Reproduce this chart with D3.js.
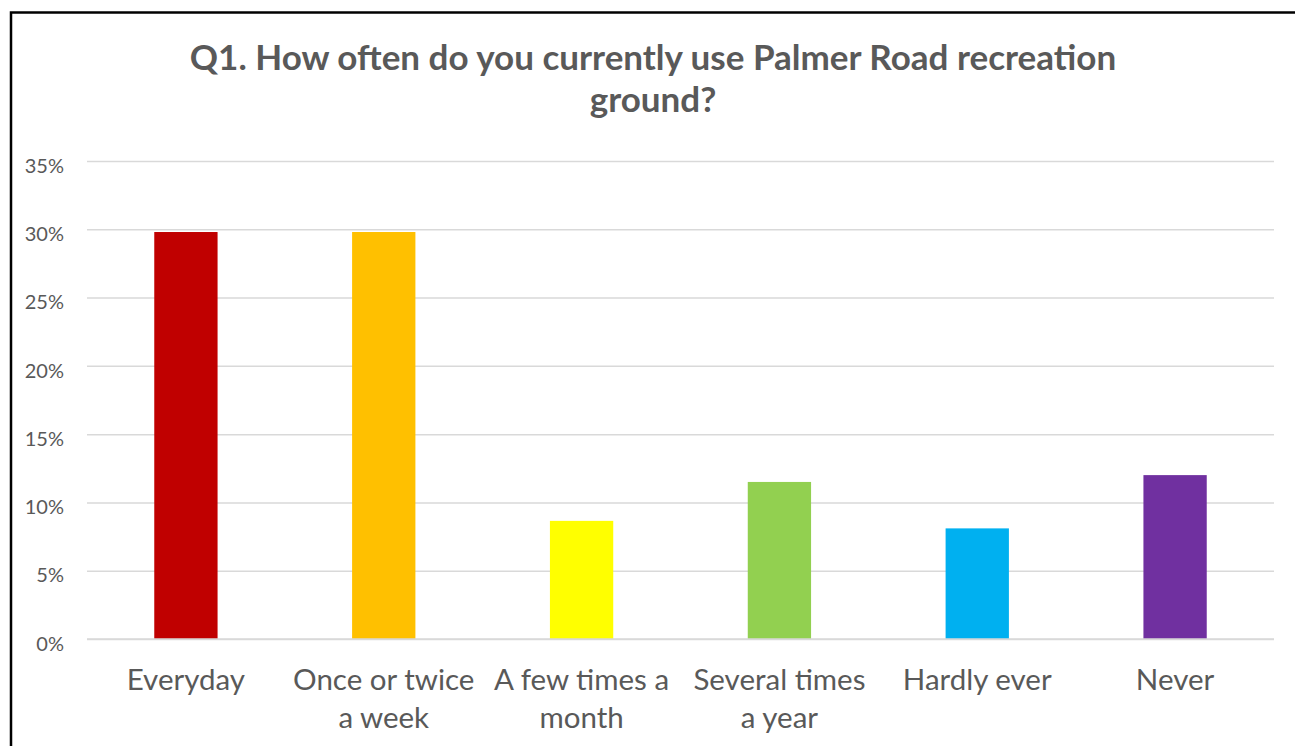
<!DOCTYPE html>
<html>
<head>
<meta charset="utf-8">
<script src="https://cdn.jsdelivr.net/npm/d3@7"></script>
<style>
  html, body { margin: 0; padding: 0; background: #fff; }
  svg { display: block; }
  text { font-family: Lato, "Open Sans", sans-serif; }
</style>
</head>
<body>
<svg id="chart" width="1295" height="746"></svg>
<script>
const titleLines = ["Q1. How often do you currently use Palmer Road recreation", "ground?"];
const categories = ["Everyday", "Once or twice a week", "A few times a month", "Several times a year", "Hardly ever", "Never"];
const tickLabelLines = [["Everyday"], ["Once or twice", "a week"], ["A few times a", "month"], ["Several times", "a year"], ["Hardly ever"], ["Never"]];
const values = [29.8, 29.8, 8.65, 11.5, 8.1, 12.0];
const colors = ["#C00000", "#FFC000", "#FFFF00", "#92D050", "#00B0F0", "#7030A0"];
const yTicks = [0, 5, 10, 15, 20, 25, 30, 35];

const svg = d3.select("#chart");
const W = 1295, H = 746;
const margin = { left: 87, right: 1274, top: 161, bottom: 639 };

// outer border
svg.append("rect")
  .attr("x", 11).attr("y", 12.5)
  .attr("width", W + 20).attr("height", H + 20)
  .attr("fill", "#fff").attr("stroke", "#000").attr("stroke-width", 2.5);

const x = d3.scaleBand().domain(categories).range([margin.left, margin.right]).paddingInner(0.68).paddingOuter(0.34);
const y = d3.scaleLinear().domain([0, 35]).range([margin.bottom, margin.top]);

// gridlines
const grid = d3.axisLeft(y).tickValues(yTicks).tickSize(-(margin.right - margin.left)).tickFormat("");
svg.append("g").attr("transform", `translate(${margin.left},0)`).call(grid)
  .call(g => g.select(".domain").remove())
  .call(g => g.selectAll("line").attr("stroke", "#D9D9D9").attr("stroke-width", 1.5));

// y axis labels
const yAxis = d3.axisLeft(y).tickValues(yTicks).tickSize(0).tickPadding(23).tickFormat(d => d + "%");
svg.append("g").attr("transform", `translate(${margin.left},0)`).call(yAxis)
  .call(g => g.select(".domain").remove())
  .call(g => g.selectAll("text").attr("fill", "#595959").style("font-size", "20px").attr("dy", "0.56em"));

// bars
svg.append("g").selectAll("rect").data(values).join("rect")
  .attr("x", (d, i) => x(categories[i]))
  .attr("width", x.bandwidth())
  .attr("y", d => y(d))
  .attr("height", d => y(0) - y(d))
  .attr("fill", (d, i) => colors[i]);

// redraw baseline on top
svg.append("line").attr("x1", margin.left).attr("x2", margin.right)
  .attr("y1", y(0)).attr("y2", y(0)).attr("stroke", "#D9D9D9").attr("stroke-width", 1.5);

// x axis labels
const xAxis = d3.axisBottom(x).tickSize(0).tickFormat("");
const xg = svg.append("g").attr("transform", `translate(0,${margin.bottom})`).call(xAxis);
xg.select(".domain").remove();
xg.selectAll(".tick").each(function(d, i) {
  const t = d3.select(this).append("text")
    .attr("fill", "#595959").attr("text-anchor", "middle").style("font-size", "29.5px");
  tickLabelLines[i].forEach((line, j) => {
    t.append("tspan").attr("x", 0).attr("y", 51 + j * 38).text(line);
  });
});

// title
const title = svg.append("text").attr("text-anchor", "middle")
  .attr("fill", "#595959").style("font-size", "35px").style("font-weight", "bold");
titleLines.forEach((line, j) => {
  title.append("tspan").attr("x", 653).attr("y", 70 + j * 42).text(line);
});
</script>
</body>
</html>
